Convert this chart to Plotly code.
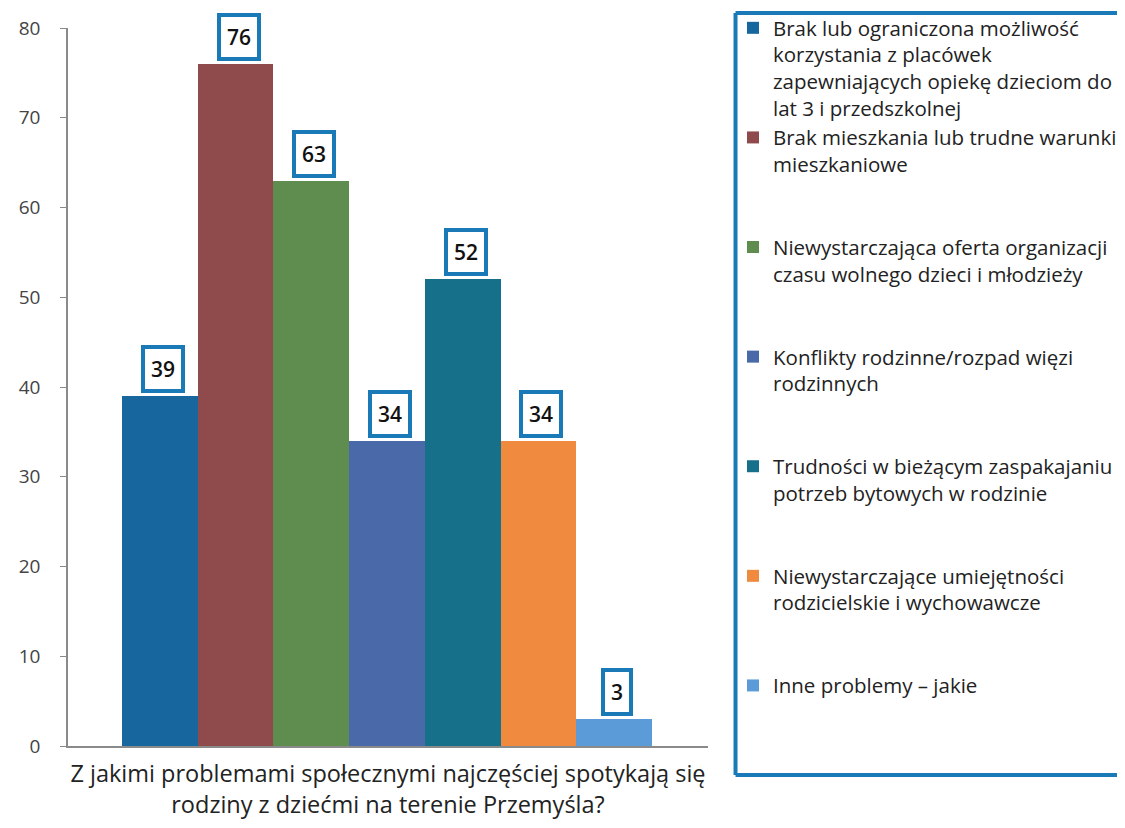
import plotly.graph_objects as go

series_names = [
    "Brak lub ograniczona możliwość<br>korzystania z placówek<br>zapewniających opiekę dzieciom do<br>lat 3 i przedszkolnej",
    "Brak mieszkania lub trudne warunki<br>mieszkaniowe",
    "Niewystarczająca oferta organizacji<br>czasu wolnego dzieci i młodzieży",
    "Konflikty rodzinne/rozpad więzi<br>rodzinnych",
    "Trudności w bieżącym zaspakajaniu<br>potrzeb bytowych w rodzinie",
    "Niewystarczające umiejętności<br>rodzicielskie i wychowawcze",
    "Inne problemy – jakie",
]
values = [39, 76, 63, 34, 52, 34, 3]
colors = ["#17679e", "#8f4b4b", "#5f8c4f", "#4a69a8", "#17708a", "#f08a3e", "#5b9bd8"]
categories = ["c1", "c2", "c3", "c4", "c5", "c6", "c7"]
y_ticks = [0, 10, 20, 30, 40, 50, 60, 70, 80]
x_title = "Z jakimi problemami społecznymi najczęściej spotykają się<br>rodziny z dziećmi na terenie Przemyśla?"

FONT = "Open Sans, Lato, sans-serif"
LINES = 4
W, H = 1117, 812  # page body adds an 8px margin; keep the page inside the window

fig = go.Figure()
for i, (nm, v, c, cat) in enumerate(zip(series_names, values, colors, categories)):
    n = nm.count("<br>") + 1
    label = nm + "<br> " * (LINES - n) if i < len(series_names) - 1 else nm
    fig.add_trace(go.Bar(
        x=[cat], y=[v], name=label, marker=dict(color=c, line=dict(width=0)),
        width=1.0, legendgroup=f"g{i}", showlegend=True,
    ))
    fig.add_annotation(
        x=cat, y=v, text=str(v), showarrow=False, yanchor="bottom", yshift=3, xshift=3,
        font=dict(family=FONT, size=21, color="#111111", weight=600),
        bgcolor="white", bordercolor="#1a7ab8", borderwidth=4, borderpad=6,
    )

# legend frame (open on the right side, as in the cropped original)
fx0, fx1, fy0, fy1 = 1.043, 1.66, -0.0404, 1.0209
frame = dict(color="#1a7ab8", width=4)
fig.add_shape(type="line", xref="paper", yref="paper", x0=fx0, x1=fx1, y0=fy1, y1=fy1, line=frame)
fig.add_shape(type="line", xref="paper", yref="paper", x0=fx0, x1=fx0, y0=fy0, y1=fy1, line=frame)
fig.add_shape(type="line", xref="paper", yref="paper", x0=fx0, x1=fx1, y0=fy0, y1=fy0, line=frame)

fig.update_layout(
    width=W, height=H,
    margin=dict(l=60, r=417, t=20, b=74, autoexpand=False),
    paper_bgcolor="white", plot_bgcolor="white",
    barmode="relative", bargap=0,
    font=dict(family=FONT, color="#333333"),
    showlegend=True,
    legend=dict(
        xref="container", yref="container",
        x=725 / W, xanchor="left", y=1.0, yanchor="top",
        font=dict(family=FONT, size=20.5, color="#222222"),
        bgcolor="rgba(0,0,0,0)", borderwidth=0,
        tracegroupgap=0, valign="top", itemsizing="constant",
        maxheight=H,
    ),
)
fig.update_xaxes(
    type="category", range=[-1.213, 7.24], showticklabels=False, ticks="",
    showline=True, linecolor="#8a8a8a", linewidth=1.5, showgrid=False, zeroline=False,
    automargin=False,
    title=dict(text=x_title, font=dict(size=23.5, color="#222222"), standoff=24),
)
fig.update_yaxes(
    range=[0, 80], tickvals=y_ticks, ticks="outside", ticklen=6, tickcolor="#8a8a8a",
    showline=True, linecolor="#8a8a8a", linewidth=1.5, showgrid=False, zeroline=False,
    automargin=False,
    tickfont=dict(size=19, color="#444444"), ticklabelstandoff=16,
)

fig.write_html("out.html")
